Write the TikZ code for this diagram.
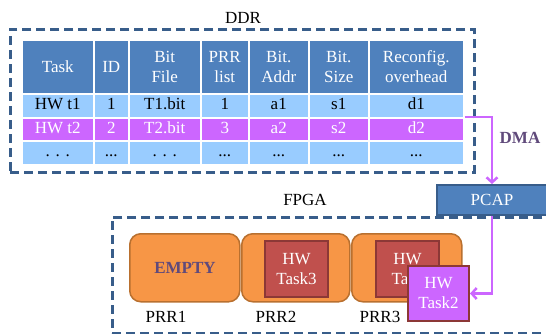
\documentclass[tikz,border=0pt]{standalone}
\usepackage{fontspec}
\setmainfont{Liberation Serif}
\usetikzlibrary{arrows.meta}
\definecolor{hdrblue}{HTML}{4F81BD}
\definecolor{lightblue}{HTML}{99CCFF}
\definecolor{magen}{HTML}{CC66FF}
\definecolor{dashcol}{HTML}{385D8A}
\definecolor{prrfill}{HTML}{F79646}
\definecolor{prrline}{HTML}{B9702F}
\definecolor{taskfill}{HTML}{C0504D}
\definecolor{taskline}{HTML}{8C3836}
\definecolor{purptext}{HTML}{604A7B}
\tikzset{
  cell/.style={draw=white, line width=1.5pt, anchor=north west, inner sep=0pt, align=center},
  hdr/.style={cell, fill=hdrblue, text=white, minimum height=54pt},
  rowa/.style={cell, fill=lightblue, text=black, minimum height=24pt},
  rowb/.style={cell, fill=magen, text=white, minimum height=23pt},
  rowc/.style={cell, fill=lightblue, text=black, minimum height=24pt},
  dashbox/.style={draw=dashcol, line width=2.5pt, dash pattern=on 9pt off 5pt, anchor=north west, inner sep=0pt},
  prrbox/.style={draw=prrline, fill=prrfill, line width=1.5pt, rounded corners=11pt, minimum width=110pt, minimum height=68pt, anchor=north west, inner sep=0pt},
  taskbox/.style={draw=taskline, fill=taskfill, line width=2pt, text=white, align=center, minimum width=63pt, minimum height=56pt, anchor=north west, inner sep=0pt},
  task2box/.style={draw=taskline, fill=magen, line width=2pt, text=white, align=center, minimum width=61pt, minimum height=55pt, anchor=north west, inner sep=0pt},
  pcapbox/.style={draw=dashcol, fill=hdrblue, line width=2pt, text=white, minimum width=110pt, minimum height=30pt, inner sep=0pt},
  flow/.style={draw=magen, line width=2.5pt, -{Straight Barb[length=5pt,width=11pt]}},
  plainlabel/.style={inner sep=0pt, text=black},
  boldlabel/.style={inner sep=0pt, text=purptext, font=\fontsize{17}{20}\selectfont\bfseries},
}
\begin{document}
\begin{tikzpicture}[x=1pt, y=-1pt, font=\fontsize{17}{20}\selectfont]
\useasboundingbox (0,0) rectangle (546,333);
\clip (0,0) rectangle (546,333);

% DDR region
\node[dashbox, minimum width=464pt, minimum height=143pt] (ddr) at (9,28) {};
\node[plainlabel] (ddrlabel) at (243,18) {DDR};

% table
\foreach \i/\x/\w/\hd/\ra/\rb/\rc in {
  1/21/72/{Task}/{HW t1}/{HW t2}/{. . .},
  2/93/35/{ID}/{1}/{2}/{...},
  3/128/72/{Bit\\File}/{T1.bit}/{T2.bit}/{. . .},
  4/200/48/{PRR\\list}/{1}/{3}/{...},
  5/248/60/{Bit.\\Addr}/{a1}/{a2}/{...},
  6/308/60/{Bit.\\Size}/{s1}/{s2}/{...},
  7/368/95/{Reconfig.\\overhead}/{d1}/{d2}/{...}}
{
  \node[hdr, minimum width=\w pt] (h\i) at (\x,39) {\hd};
  \node[rowa, minimum width=\w pt] (a\i) at (\x,93) {\strut\ra};
  \node[rowb, minimum width=\w pt] (b\i) at (\x,117) {\strut\rb};
  \node[rowc, minimum width=\w pt] (c\i) at (\x,140) {\strut\rc};
}

% FPGA region
\node[dashbox, minimum width=500pt, minimum height=116pt] (fpga) at (111,216) {};
\node[plainlabel] (fpgalabel) at (305,200) {FPGA};

% PCAP
\node[pcapbox] (pcap) at (492,200) {PCAP};

% DMA arrow
\draw[flow] (b7.north east) -| (pcap.north);
\node[boldlabel] (dma) at (520,138) {DMA};

% PRRs
\node[prrbox] (prr1) at (129,233) {};
\node[prrbox, minimum width=108pt] (prr2) at (241,233) {};
\node[prrbox] (prr3) at (351,233) {};
\node[boldlabel] (empty) at (185,268) {EMPTY};
\node[taskbox] (task3) at (264,240) {HW\\Task3};
\node[taskbox] (task1) at (375,240) {HW\\Task};
\node[task2box] (task2) at (407,265) {HW\\Task2};

\node[plainlabel] (l1) at (166,317) {PRR1};
\node[plainlabel] (l2) at (276,317) {PRR2};
\node[plainlabel] (l3) at (380,317) {PRR3};

% configuration arrow
\draw[flow] (pcap.south) |- (task2.east);
\end{tikzpicture}
\end{document}
